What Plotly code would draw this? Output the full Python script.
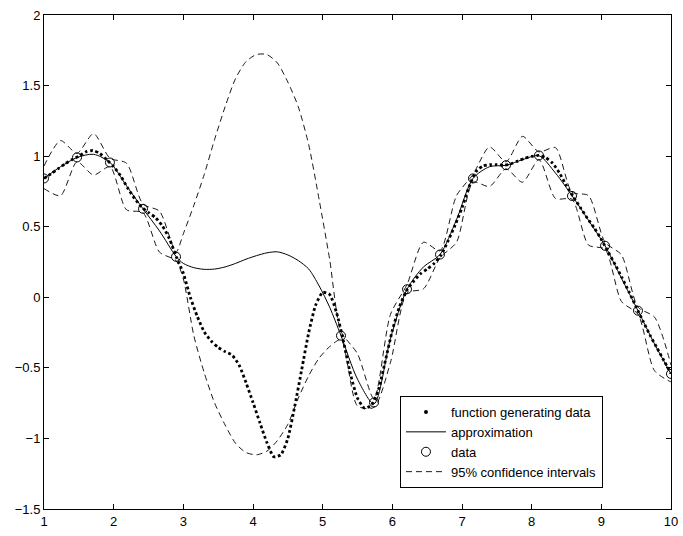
import plotly.graph_objects as go

# ---- function generating data (read at 0.1 steps) ----
fx = [round(1 + 0.1 * i, 1) for i in range(91)]
fy = [0.842, 0.875, 0.91, 0.945, 0.975, 1.0, 1.03, 1.04, 1.02, 0.975,
      0.925, 0.86, 0.775, 0.70, 0.64, 0.60, 0.565, 0.505, 0.415, 0.285,
      0.17, 0.0, -0.135, -0.245, -0.31, -0.355, -0.385, -0.41, -0.48, -0.605,
      -0.745, -0.89, -1.03, -1.13, -1.115, -1.0, -0.77, -0.51, -0.25, -0.055,
      0.035, 0.02, -0.11, -0.315, -0.545, -0.715, -0.785, -0.765, -0.655, -0.45,
      -0.235, -0.07, 0.045, 0.11, 0.165, 0.20, 0.24, 0.30, 0.40, 0.51,
      0.635, 0.78, 0.89, 0.93, 0.94, 0.94, 0.935, 0.945, 0.965, 0.985,
      0.998, 1.005, 0.99, 0.95, 0.88, 0.79, 0.71, 0.635, 0.56, 0.49,
      0.41, 0.32, 0.23, 0.135, 0.035, -0.07, -0.17, -0.27, -0.36, -0.45,
      -0.54]

# ---- data points ----
data_x = [1.000, 1.474, 1.947, 2.421, 2.895, 5.263, 5.737, 6.211, 6.684, 7.158,
          7.632, 8.105, 8.579, 9.053, 9.526, 10.000]
data_y = [0.842, 0.991, 0.955, 0.627, 0.287, -0.272, -0.745, 0.057, 0.303, 0.842,
          0.936, 1.005, 0.718, 0.365, -0.095, -0.543]

# ---- approximation and 95% confidence intervals ----
ax_x = [1.000, 1.237, 1.474, 1.711, 1.947, 2.184, 2.421, 2.658, 2.895,
        3.0, 3.15, 3.3, 3.45, 3.6, 3.75, 3.9, 4.05, 4.2, 4.35, 4.5, 4.65, 4.8, 4.95, 5.1,
        5.263, 5.5, 5.737, 5.974, 6.211, 6.447, 6.684, 6.921, 7.158, 7.395, 7.632,
        7.868, 8.105, 8.342, 8.579, 8.816, 9.053, 9.289, 9.526, 9.763, 10.0]
approx = [0.842, 0.925, 0.99, 1.013, 0.955, 0.79, 0.627, 0.47, 0.29,
          0.24, 0.21, 0.198, 0.20, 0.215, 0.24, 0.27, 0.295, 0.315, 0.322, 0.30, 0.26, 0.20, 0.08, -0.07,
          -0.272, -0.58, -0.755, -0.29, 0.057, 0.215, 0.303, 0.55, 0.842, 0.925, 0.935,
          0.975, 1.003, 0.88, 0.72, 0.545, 0.365, 0.135, -0.095, -0.33, -0.543]
upper = [0.93, 1.11, 1.02, 1.16, 0.985, 0.95, 0.66, 0.61, 0.32,
         0.45, 0.65, 0.87, 1.12, 1.35, 1.55, 1.67, 1.72, 1.72, 1.66, 1.525, 1.35, 1.08, 0.69, 0.27,
         -0.24, -0.40, -0.72, -0.12, 0.09, 0.39, 0.33, 0.72, 0.87, 1.065, 0.96,
         1.14, 1.03, 1.06, 0.745, 0.72, 0.39, 0.30, -0.07, -0.14, -0.48]
lower = [0.77, 0.72, 0.96, 0.866, 0.925, 0.62, 0.60, 0.32, 0.26,
         0.13, -0.27, -0.535, -0.75, -0.905, -1.035, -1.10, -1.116, -1.09, -1.015, -0.9, -0.715, -0.555, -0.43, -0.35,
         -0.30, -0.77, -0.78, -0.46, 0.03, 0.06, 0.28, 0.39, 0.815, 0.785, 0.91,
         0.815, 0.975, 0.70, 0.695, 0.37, 0.34, -0.03, -0.12, -0.52, -0.60]

x_ticks = [1, 2, 3, 4, 5, 6, 7, 8, 9, 10]
y_ticks = [-1.5, -1, -0.5, 0, 0.5, 1, 1.5, 2]

FONT = "Liberation Sans, Arial, Helvetica, sans-serif"

fig = go.Figure()

# function generating data (dotted)
fig.add_trace(go.Scatter(x=fx, y=fy, mode="lines", showlegend=False,
                         legendgroup="f",
                         line=dict(color="black", width=2.8, dash="2.8px,2.6px",
                                   shape="spline", smoothing=0.6)))
fig.add_trace(go.Scatter(x=[None], y=[None], mode="markers",
                         name="function generating data", legendgroup="f",
                         marker=dict(color="black", size=4)))
# approximation
fig.add_trace(go.Scatter(x=ax_x, y=approx, mode="lines", name="approximation",
                         line=dict(color="black", width=1, shape="spline", smoothing=0.8)))
# data
fig.add_trace(go.Scatter(x=data_x, y=data_y, mode="markers", name="data",
                         marker=dict(symbol="circle-open", size=9,
                                     color="black", line=dict(width=1, color="black"))))
# confidence intervals
fig.add_trace(go.Scatter(x=ax_x, y=upper, mode="lines", name="95% confidence intervals",
                         legendgroup="ci",
                         line=dict(color="black", width=0.9, dash="6px,4px",
                                   shape="spline", smoothing=0.7)))
fig.add_trace(go.Scatter(x=ax_x, y=lower, mode="lines", showlegend=False,
                         legendgroup="ci",
                         line=dict(color="black", width=0.9, dash="6px,4px",
                                   shape="spline", smoothing=0.7)))

axis_common = dict(showgrid=False, zeroline=False, showline=True, linecolor="black",
                   linewidth=1, mirror="allticks", ticks="inside", ticklen=5,
                   tickcolor="black", tickwidth=1, automargin=False,
                   tickfont=dict(family=FONT, size=13, color="black"))

fig.update_xaxes(range=[1, 10], tickvals=x_ticks, **axis_common)
fig.update_yaxes(range=[-1.5, 2], tickvals=y_ticks, **axis_common)

fig.update_layout(
    width=683, height=536,
    margin=dict(l=44, r=12, t=15, b=27, autoexpand=False),
    paper_bgcolor="white", plot_bgcolor="white",
    font=dict(family=FONT, size=13, color="black"),
    legend=dict(x=0.8915, y=0.0425, xanchor="right", yanchor="bottom",
                bgcolor="white", bordercolor="black", borderwidth=1,
                font=dict(family=FONT, size=13, color="black"),
                itemwidth=40, tracegroupgap=0),
)

fig.write_html("out.html", config={"displayModeBar": False},
               post_script="document.body.style.margin='0px';document.body.style.overflow='hidden';")
